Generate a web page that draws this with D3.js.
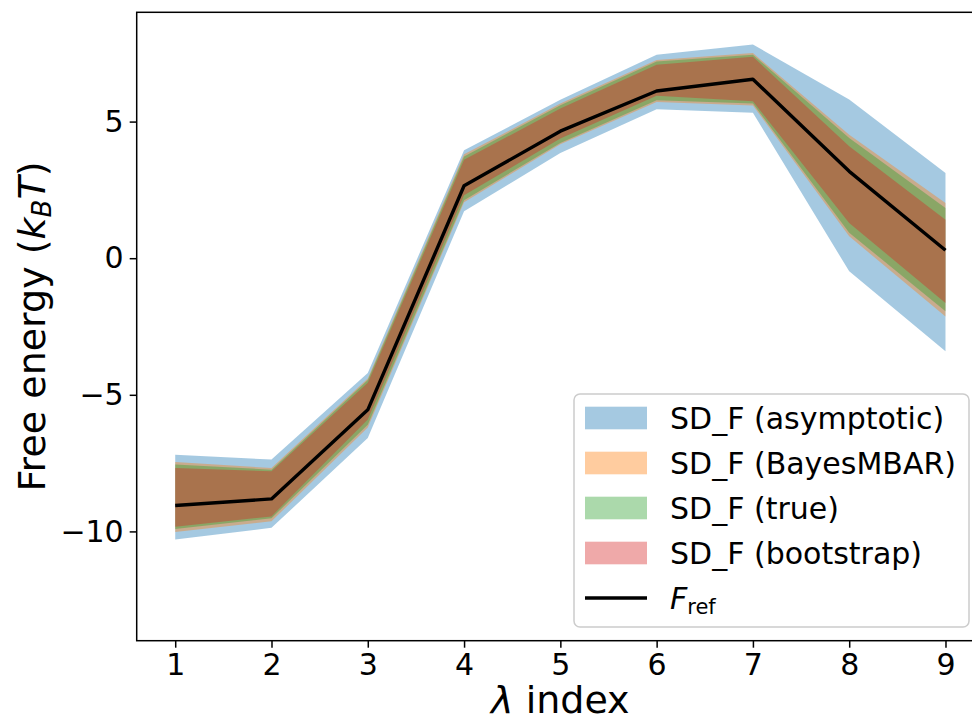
<!DOCTYPE html>
<html lang="en">
<head>
<meta charset="utf-8">
<title>Free energy along lambda</title>
<script src="https://d3js.org/d3.v7.min.js"></script>
<style>
    body { margin: 0; background: #fff; font-family: "DejaVu Sans", sans-serif; }
    svg { display: block; }
    .tick text { font-family: "DejaVu Sans", sans-serif; font-size: 30px; fill: #000; }
    .tick line, .domain { stroke: #000; }
</style>
</head>
<body>
<svg id="chart" width="972" height="722"></svg>
<script>
    // lambda states
    const lambdaIdx = [1, 2, 3, 4, 5, 6, 7, 8, 9];

    // reference free energy (kBT)
    const fRef = [-9.05, -8.81, -5.55, 2.65, 4.65, 6.12, 6.55, 3.18, 0.29];

    // band edges (upper / lower) for each uncertainty estimate
    const asymHi = [-7.19, -7.37, -4.20, 3.95, 5.80, 7.45, 7.82, 5.81, 3.12];
    const asymLo = [-10.30, -9.87, -6.58, 1.72, 3.85, 5.45, 5.32, -0.48, -3.41];
    const bayesHi = [-7.46, -7.68, -4.40, 3.80, 5.66, 7.25, 7.51, 4.52, 2.02];
    const bayesLo = [-10.02, -9.63, -6.20, 2.05, 4.17, 5.72, 5.59, 0.80, -2.13];
    const trueHi = [-7.55, -7.74, -4.46, 3.72, 5.60, 7.20, 7.45, 4.40, 1.84];
    const trueLo = [-9.91, -9.52, -6.10, 2.12, 4.22, 5.78, 5.66, 0.93, -1.94];
    const bootHi = [-7.68, -7.80, -4.56, 3.60, 5.48, 7.08, 7.37, 4.10, 1.41];
    const bootLo = [-9.83, -9.45, -5.90, 2.30, 4.38, 5.95, 5.74, 1.29, -1.64];

    const xTicks = [1, 2, 3, 4, 5, 6, 7, 8, 9];
    const yTicks = [-10, -5, 0, 5];

    const bands = [
        { label: "SD_F (asymptotic)", color: "#1f77b4", hi: asymHi, lo: asymLo },
        { label: "SD_F (BayesMBAR)", color: "#ff7f0e", hi: bayesHi, lo: bayesLo },
        { label: "SD_F (true)", color: "#2ca02c", hi: trueHi, lo: trueLo },
        { label: "SD_F (bootstrap)", color: "#d62728", hi: bootHi, lo: bootLo }
    ];

    const svg = d3.select("#chart");

    // axes box (right edge runs past the picture, as in the original crop)
    const box = { left: 136.7, right: 984, top: 12.3, bottom: 640.7 };

    const x = d3.scaleLinear().domain([0.6, 9.4]).range([box.left, box.right]);
    const y = d3.scaleLinear().domain([-14, 9]).range([box.bottom, box.top]);

    const plot = svg.append("g");

    bands.forEach(b => {
        const area = d3.area()
            .x((d, i) => x(lambdaIdx[i]))
            .y0((d, i) => y(b.lo[i]))
            .y1((d, i) => y(b.hi[i]));
        plot.append("path")
            .datum(lambdaIdx)
            .attr("d", area)
            .attr("fill", b.color)
            .attr("fill-opacity", 0.4)
            .attr("stroke", "none");
    });

    const line = d3.line()
        .x((d, i) => x(lambdaIdx[i]))
        .y(d => y(d));

    plot.append("path")
        .datum(fRef)
        .attr("d", line)
        .attr("fill", "none")
        .attr("stroke", "#000")
        .attr("stroke-width", 3.4)
        .attr("stroke-linejoin", "round");

    // axes
    svg.append("g")
        .attr("transform", `translate(0,${box.bottom})`)
        .call(d3.axisBottom(x).tickValues(xTicks).tickSize(7).tickPadding(6).tickSizeOuter(0));

    svg.append("g")
        .attr("transform", `translate(${box.left},0)`)
        .call(d3.axisLeft(y).tickValues(yTicks).tickSize(7).tickPadding(6).tickSizeOuter(0));

    svg.selectAll(".domain").remove();
    svg.selectAll(".tick line").attr("stroke-width", 1.5);

    // frame
    svg.append("rect")
        .attr("x", box.left).attr("y", box.top)
        .attr("width", box.right - box.left).attr("height", box.bottom - box.top)
        .attr("fill", "none")
        .attr("stroke", "#000")
        .attr("stroke-width", 1.5);

    // axis labels
    const xl = svg.append("text")
        .attr("x", (box.left + box.right) / 2)
        .attr("y", 713)
        .attr("text-anchor", "middle")
        .style("font-size", "38px");
    xl.append("tspan").style("font-style", "italic").text("λ");
    xl.append("tspan").text(" index");

    const yl = svg.append("text")
        .attr("transform", `translate(45,${(box.top + box.bottom) / 2}) rotate(-90)`)
        .attr("text-anchor", "middle")
        .style("font-size", "38px");
    yl.append("tspan").text("Free energy (");
    yl.append("tspan").style("font-style", "italic").text("k");
    yl.append("tspan").style("font-style", "italic").style("font-size", "26px").attr("dy", 6).text("B");
    yl.append("tspan").style("font-style", "italic").attr("dy", -6).text("T");
    yl.append("tspan").text(")");

    // legend
    const lg = svg.append("g");
    lg.append("rect")
        .attr("x", 574).attr("y", 394)
        .attr("width", 395).attr("height", 233)
        .attr("rx", 6)
        .attr("fill", "#fff").attr("fill-opacity", 0.8)
        .attr("stroke", "#cccccc").attr("stroke-width", 1.5);

    const rowY = d => 418 + d * 45;

    bands.forEach((b, i) => {
        lg.append("rect")
            .attr("x", 585).attr("y", rowY(i) - 11.3)
            .attr("width", 62).attr("height", 22.6)
            .attr("fill", b.color).attr("fill-opacity", 0.4);
        lg.append("text")
            .attr("x", 670).attr("y", rowY(i) + 11)
            .style("font-size", "30px")
            .text(b.label);
    });

    lg.append("line")
        .attr("x1", 585).attr("x2", 647)
        .attr("y1", rowY(4)).attr("y2", rowY(4))
        .attr("stroke", "#000").attr("stroke-width", 3.4);

    const ft = lg.append("text")
        .attr("x", 670).attr("y", rowY(4) + 11)
        .style("font-size", "30px");
    ft.append("tspan").style("font-style", "italic").text("F");
    ft.append("tspan").style("font-size", "21px").attr("dy", 5).text("ref");
</script>
</body>
</html>
